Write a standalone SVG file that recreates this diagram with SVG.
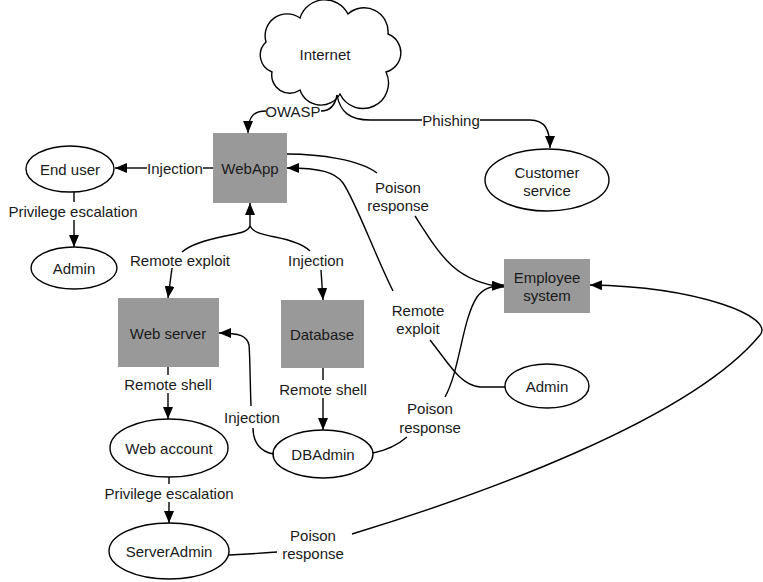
<svg xmlns="http://www.w3.org/2000/svg" width="763" height="582" viewBox="0 0 763 582">
<defs>
<marker id="ah" markerUnits="userSpaceOnUse" markerWidth="12" markerHeight="10" refX="12" refY="5" orient="auto">
<path d="M0,0 L12,5 L0,10 z" fill="#000"/>
</marker>
<style>
text{font-family:"Liberation Sans",Arial,sans-serif;font-size:15px;fill:#1a1a1a;text-anchor:middle;dominant-baseline:central}
.n{fill:#fff;stroke:#000;stroke-width:1.4}
.b{fill:#999;stroke:none}
.e{fill:none;stroke:#000;stroke-width:1.4}
.a{marker-end:url(#ah)}
</style>
</defs>
<rect width="763" height="582" fill="#fff"/>

<g id="internet">
<path class="n" d="M300,90 A18 18 0 0 1 272,72 A18 18 0 0 1 266,42 A22 22 0 0 1 300,18 A26 26 0 0 1 348,14 A24 24 0 0 1 388,34 A20 20 0 0 1 386,72 A22 22 0 0 1 340,94 A22 22 0 0 1 300,90 z"/>
<text x="325" y="54">Internet</text>
</g>
<g id="webapp"><rect class="b" x="213" y="133" width="74" height="70"/><text x="250" y="168">WebApp</text></g>
<g id="enduser"><ellipse class="n" cx="70" cy="169" rx="44" ry="23"/><text x="70" y="169">End user</text></g>
<g id="admin1"><ellipse class="n" cx="74" cy="268" rx="43" ry="21"/><text x="74" y="268">Admin</text></g>
<g id="webserver"><rect class="b" x="118" y="298" width="101" height="69"/><text x="168" y="333">Web server</text></g>
<g id="database"><rect class="b" x="281" y="300" width="83" height="68"/><text x="322" y="334">Database</text></g>
<g id="customer"><ellipse class="n" cx="547" cy="180" rx="62" ry="31"/><text x="547" y="172">Customer</text><text x="547" y="190">service</text></g>
<g id="employee"><rect class="b" x="504" y="259" width="86" height="54"/><text x="547" y="277">Employee</text><text x="547" y="295">system</text></g>
<g id="admin2"><ellipse class="n" cx="547" cy="386" rx="42" ry="22"/><text x="547" y="386">Admin</text></g>
<g id="webaccount"><ellipse class="n" cx="169" cy="448" rx="59" ry="29"/><text x="169" y="448">Web account</text></g>
<g id="dbadmin"><ellipse class="n" cx="323" cy="454" rx="50" ry="24"/><text x="323" y="454">DBAdmin</text></g>
<g id="serveradmin"><ellipse class="n" cx="169" cy="551" rx="60" ry="28"/><text x="169" y="551">ServerAdmin</text></g>

<g id="connectors">
<path class="e" d="M337,95 C335,106 330,111 321,111"/>
<path class="e a" d="M266,111 C254,111 248,116 248,133"/>
<text x="293" y="111">OWASP</text>

<path class="e" d="M337,95 C340,112 350,120 370,120 L422,120"/>
<path class="e a" d="M480,120 L530,120 C545,120 550,130 550,148"/>
<text x="451" y="120">Phishing</text>

<path class="e" d="M213,168 L203,168"/>
<path class="e a" d="M147,168 L115,168"/>
<text x="175" y="168">Injection</text>

<path class="e" d="M74,192 L74,202"/>
<path class="e a" d="M74,220 L74,247"/>
<text x="73" y="211">Privilege escalation</text>

<path class="e a" d="M250,226 L250,203"/>
<path class="e" d="M250,226 C248,232 240,233 225,236 C205,240 190,245 182,252"/>
<path class="e a" d="M172,268 L168,298"/>
<text x="180" y="260">Remote exploit</text>
<path class="e" d="M250,226 C253,232 260,234 275,237 C295,241 305,246 310,251"/>
<path class="e a" d="M321,270 L323,300"/>
<text x="316" y="260">Injection</text>

<path class="e" d="M168,367 L168,375"/>
<path class="e a" d="M168,393 L168,419"/>
<text x="168" y="384">Remote shell</text>

<path class="e" d="M323,368 L323,380"/>
<path class="e a" d="M323,398 L323,430"/>
<text x="323" y="389">Remote shell</text>

<path class="e" d="M169,477 L169,484"/>
<path class="e a" d="M169,502 L169,523"/>
<text x="169" y="493">Privilege escalation</text>

<path class="e" d="M274,454 C260,452 253,442 253,428"/>
<path class="e a" d="M251,406 C250,380 250,355 249,345 C247,336 240,333 219,333"/>
<text x="252" y="417">Injection</text>

<path class="e" d="M287,154 C320,154 360,160 377,173"/>
<path class="e a" d="M415,216 C440,255 455,282 504,287"/>
<text x="398" y="187">Poison</text><text x="398" y="205">response</text>

<path class="e" d="M505,387 L480,387 C460,385 450,365 430,340"/>
<path class="e a" d="M393,291 C375,255 355,200 343,183 C335,172 320,168 287,168"/>
<text x="418" y="310">Remote</text><text x="418" y="328">exploit</text>

<path class="e" d="M373,453 C388,450 400,443 407,437"/>
<path class="e a" d="M445,397 C460,370 462,320 477,297 C483,289 490,286 504,285"/>
<text x="430" y="408">Poison</text><text x="430" y="427">response</text>

<path class="e" d="M229,555 C250,554 265,553 277,552"/>
<path class="e a" d="M352,534 C480,495 690,420 760,335 C775,317 700,287 590,285"/>
<text x="313" y="535">Poison</text><text x="313" y="553">response</text>
</g>
</svg>
